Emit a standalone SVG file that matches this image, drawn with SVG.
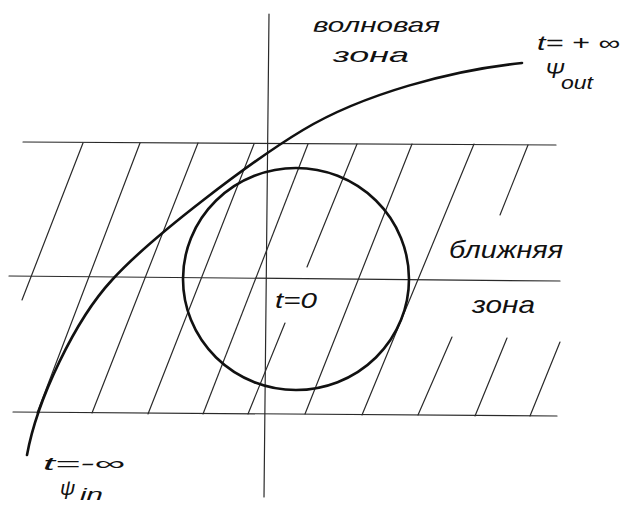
<svg xmlns="http://www.w3.org/2000/svg" width="623" height="510" viewBox="0 0 623 510">
<style>
.ln{stroke:#2a2a2a;stroke-width:1.2;fill:none;stroke-linecap:round}
.th{stroke:#111;stroke-width:2.6;fill:none;stroke-linecap:round}
.tx{font-family:"Liberation Sans","DejaVu Sans",sans-serif;font-style:italic;fill:#111}
</style>
<rect width="623" height="510" fill="#fff"/>
<g id="bands">
<line class="ln" x1="23" y1="142" x2="556" y2="145"/>
<line class="ln" x1="9" y1="276" x2="560" y2="281"/>
<line class="ln" x1="13" y1="412" x2="557" y2="416"/>
<line class="ln" x1="269" y1="14" x2="264" y2="497"/>
</g>
<g id="hatching">
<line class="ln" x1="83" y1="143" x2="22" y2="300"/>
<line class="ln" x1="140" y1="143" x2="37" y2="413"/>
<line class="ln" x1="198" y1="143" x2="92" y2="413"/>
<line class="ln" x1="254" y1="144" x2="148" y2="414"/>
<line class="ln" x1="308" y1="144" x2="203" y2="414"/>
<line class="ln" x1="357" y1="144" x2="307" y2="267"/>
<line class="ln" x1="412" y1="144" x2="305" y2="414"/>
<line class="ln" x1="474" y1="144" x2="362" y2="415"/>
<line class="ln" x1="528" y1="145" x2="500" y2="215"/>
<line class="ln" x1="285" y1="323" x2="248" y2="414"/>
<line class="ln" x1="452" y1="337" x2="418" y2="415"/>
<line class="ln" x1="507" y1="338" x2="475" y2="416"/>
<line class="ln" x1="560" y1="342" x2="530" y2="416"/>
</g>
<g id="near-region">
<ellipse class="th" cx="296" cy="279" rx="113" ry="111"/>
</g>
<g id="trajectory">
<path class="th" d="M27,455 C37,400 75,320 112,280 C152,236 253,160 303,130 C363,94 452,70 522,63"/>
</g>
<g id="labels">
<text class="tx" x="313" y="32" font-size="21" textLength="127" lengthAdjust="spacingAndGlyphs">волновая</text>
<text class="tx" x="333" y="62" font-size="21" textLength="76" lengthAdjust="spacingAndGlyphs">зона</text>
<text class="tx" x="537" y="50" font-size="20" textLength="83" lengthAdjust="spacingAndGlyphs">t= + ∞</text>
<text class="tx" x="545" y="78" font-size="23">Ψ</text>
<text class="tx" x="561" y="89" font-size="18" textLength="32" lengthAdjust="spacingAndGlyphs">out</text>
<text class="tx" x="449" y="258" font-size="24" textLength="114" lengthAdjust="spacingAndGlyphs">ближняя</text>
<text class="tx" x="472" y="313" font-size="24" textLength="63" lengthAdjust="spacingAndGlyphs">зона</text>
<text class="tx" x="275" y="308" font-size="22" textLength="42" lengthAdjust="spacingAndGlyphs">t=0</text>
<text class="tx" x="43" y="470" font-size="19" textLength="82" lengthAdjust="spacingAndGlyphs">t=-∞</text>
<text class="tx" x="60" y="495" font-size="21">ψ</text>
<text class="tx" x="80" y="500" font-size="17" textLength="23" lengthAdjust="spacingAndGlyphs">in</text>
</g>
</svg>
